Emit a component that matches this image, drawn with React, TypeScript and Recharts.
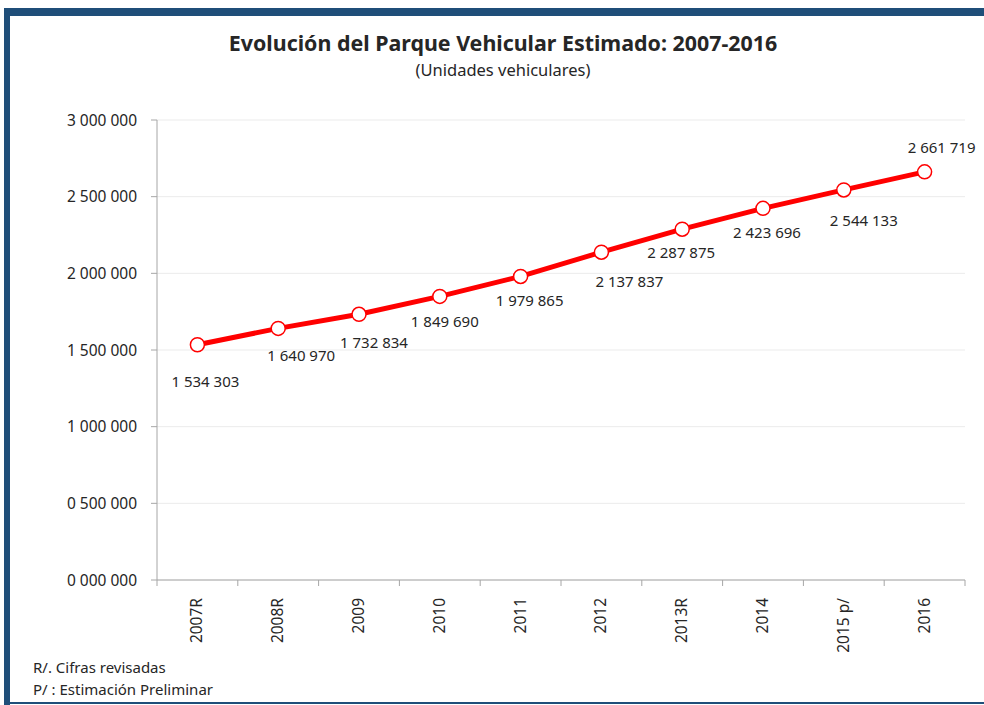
import React from 'react';
import { LineChart, Line, XAxis, YAxis, CartesianGrid, LabelList } from 'recharts';

const categories = ['2007R', '2008R', '2009', '2010', '2011', '2012', '2013R', '2014', '2015 p/', '2016'];
const vehicles = [1534303, 1640970, 1732834, 1849690, 1979865, 2137837, 2287875, 2423696, 2544133, 2661719];
const yTicks = [0, 500000, 1000000, 1500000, 2000000, 2500000, 3000000];
// label placement offsets (style), relative to each point
const labelDx = [8, 23, 15, 5, 9, 28, -1, 4, 20, 17];
const labelDy = [37, 28, 29, 26, 25, 30, 24, 25, 31, -24];

const data = categories.map((c, i) => ({ cat: c, value: vehicles[i] }));

const FONT = '"Noto Sans", "Open Sans", sans-serif';

const fmt = (v: number) => {
  const s = String(Math.round(v)).padStart(7, '0');
  return s.replace(/\B(?=(\d{3})+(?!\d))/g, ' ');
};

const XTick = (props: any) => {
  const { x, y, payload, index, width, visibleTicksCount } = props;
  const half = width / visibleTicksCount / 2;
  const axisY = y - 8;
  return (
    <g>
      <line x1={x - half} x2={x - half} y1={axisY} y2={axisY + 6} stroke="#A6A6A6" strokeWidth={1} />
      {index === visibleTicksCount - 1 && (
        <line x1={x + half} x2={x + half} y1={axisY} y2={axisY + 6} stroke="#A6A6A6" strokeWidth={1} />
      )}
      <text
        x={0}
        y={0}
        transform={`translate(${x + 5},${axisY + 18}) rotate(-90)`}
        textAnchor="end"
        fontSize={15.5}
        fill="#262626"
        fontFamily={FONT}
      >
        {payload.value}
      </text>
    </g>
  );
};

const PointLabel = (props: any) => {
  const { x, y, value, index } = props;
  return (
    <text
      x={x + labelDx[index]}
      y={y + labelDy[index] + 5}
      textAnchor="middle"
      fontSize={15}
      fill="#262626"
      fontFamily={FONT}
    >
      {fmt(value).replace(/^0 /, '')}
    </text>
  );
};

export default function App() {
  return (
    <div style={{ position: 'absolute', left: 0, top: 0, width: 984, height: 705, background: '#fff', overflow: 'hidden', fontFamily: FONT }}>
      <div style={{ position: 'absolute', left: 4, top: 8, width: 980, height: 8, background: '#1F4E79' }} />
      <div style={{ position: 'absolute', left: 4, top: 8, width: 6, height: 697, background: '#1F4E79' }} />
      <div style={{ position: 'absolute', left: 4, top: 702, width: 980, height: 2, background: '#1F4E79' }} />
      <div style={{ position: 'absolute', left: 0, top: 28, width: 1006, textAlign: 'center', fontSize: 21.4, fontWeight: 700, color: '#262626' }}>
        Evolución del Parque Vehicular Estimado: 2007-2016
      </div>
      <div style={{ position: 'absolute', left: 0, top: 58, width: 1006, textAlign: 'center', fontSize: 16.5, color: '#262626' }}>
        (Unidades vehiculares)
      </div>
      <div style={{ position: 'absolute', left: 0, top: 0 }}>
        <LineChart width={984} height={705} data={data} margin={{ top: 120, right: 19, bottom: 65, left: 0 }}>
          <CartesianGrid vertical={false} stroke="#EBEBEB" />
          <XAxis
            dataKey="cat"
            scale="band"
            height={60}
            axisLine={{ stroke: '#A6A6A6' }}
            tickLine={false}
            tick={<XTick />}
            interval={0}
          />
          <YAxis
            width={157}
            domain={[0, 3000000]}
            ticks={yTicks}
            tickFormatter={fmt}
            axisLine={{ stroke: '#A6A6A6' }}
            tickLine={{ stroke: '#A6A6A6' }}
            tickSize={6}
            tickMargin={14}
            tick={{ fontSize: 15.5, fill: '#262626', fontFamily: FONT }}
          />
          <Line
            dataKey="value"
            stroke="#FF0000"
            strokeWidth={5}
            dot={{ r: 7, fill: '#FFFFFF', stroke: '#FF0000', strokeWidth: 1.5 }}
            isAnimationActive={false}
          >
            <LabelList dataKey="value" content={<PointLabel />} />
          </Line>
        </LineChart>
      </div>
      <div style={{ position: 'absolute', left: 33, top: 657, fontSize: 15, color: '#262626' }}>R/. Cifras revisadas</div>
      <div style={{ position: 'absolute', left: 33, top: 679, fontSize: 15, color: '#262626' }}>P/ : Estimación Preliminar</div>
    </div>
  );
}
